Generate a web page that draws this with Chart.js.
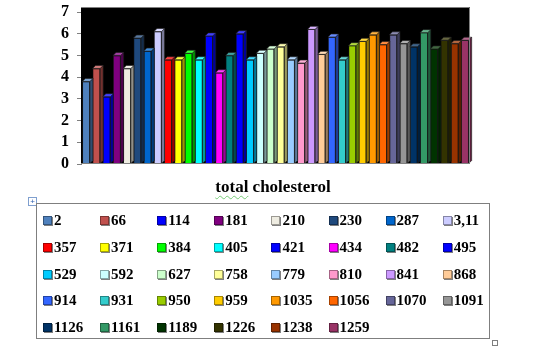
<!DOCTYPE html>
<html>
<head>
<meta charset="utf-8">
<script src="https://cdn.jsdelivr.net/npm/chart.js@4.4.1/dist/chart.umd.min.js"></script>
<style>
  html, body { margin: 0; padding: 0; background: #fff; }
  body { width: 555px; height: 357px; position: relative; overflow: hidden; }
  #wrap { position: absolute; left: 0; top: 0; width: 555px; height: 357px; }
  #title { position: absolute; left: 173px; width: 200px; top: 177px; text-align: center; font: bold 17px "Liberation Serif", "Times New Roman", serif; color: #000; line-height: 20px; }
  #title .sp { text-decoration: underline wavy #77cc77; text-decoration-thickness: 1px; text-underline-offset: 3px; }
  #legend { position: absolute; left: 36px; top: 203px; width: 454px; height: 136px; border: 1px solid #7f7f7f; box-sizing: border-box; }
  .item { position: absolute; height: 16px; font: bold 15px "Liberation Serif", "Times New Roman", serif; color: #000; line-height: 16px; white-space: nowrap; }
  .mk { position: absolute; left: 0; top: 4px; width: 7px; height: 7px; border: 1px solid rgba(0,0,0,0.35); box-shadow: 1px 1px 0 #808080; }
  .tx { position: absolute; left: 11px; top: 0; }
  #plus { position: absolute; left: 28px; top: 197px; width: 7px; height: 7px; border: 1px solid #7f9fcf; font: 8px sans-serif; line-height: 7px; text-align: center; color: #3060b0; }
  #handle { position: absolute; left: 492px; top: 340px; width: 4px; height: 4px; border: 1px solid #7f7f7f; background: #fff; }
</style>
</head>
<body>
<div id="wrap"><canvas id="c" width="555" height="357"></canvas></div>
<div id="title"></div>
<div id="plus">+</div>
<div id="legend"></div>
<div id="handle"></div>
<script>
const categories = ["2","66","114","181","210","230","287","3,11","357","371","384","405","421","434","482","495","529","592","627","758","779","810","841","868","914","931","950","959","1035","1056","1070","1091","1126","1161","1189","1226","1238","1259"];
const values = [3.8,4.4,3.1,5.0,4.4,5.8,5.2,6.1,4.8,4.8,5.1,4.8,5.9,4.2,5.0,6.0,4.8,5.1,5.3,5.4,4.8,4.65,6.2,5.05,5.85,4.8,5.45,5.65,5.95,5.5,5.95,5.55,5.4,6.05,5.3,5.7,5.55,5.7];
const colors = ["#4F81BD","#C0504D","#0000FF","#800080","#EEECE1","#1F497D","#0066CC","#CCCCFF","#FF0000","#FFFF00","#00FF00","#00FFFF","#0000FF","#FF00FF","#008080","#0000FF","#00CCFF","#CCFFFF","#CCFFCC","#FFFF99","#99CCFF","#FF99CC","#CC99FF","#FFCC99","#3366FF","#33CCCC","#99CC00","#FFCC00","#FF9900","#FF6600","#666699","#969696","#003366","#339966","#003300","#333300","#993300","#993366"];
const yTicks = [0,1,2,3,4,5,6,7];
const titleWords = ["total", "cholesterol"];

function shade(hex, f) {
  const n = parseInt(hex.slice(1), 16);
  let r = (n >> 16) & 255, g = (n >> 8) & 255, b = n & 255;
  if (f >= 0) { r += (255 - r) * f; g += (255 - g) * f; b += (255 - b) * f; }
  else { r *= (1 + f); g *= (1 + f); b *= (1 + f); }
  return 'rgb(' + Math.round(r) + ',' + Math.round(g) + ',' + Math.round(b) + ')';
}

const DEPTH = 3;
const WALL = 5;
const plotBg = {
  id: 'plotBg',
  beforeDatasetsDraw(chart) {
    const {ctx, chartArea: a} = chart;
    ctx.save();
    ctx.fillStyle = '#000';
    ctx.fillRect(a.left, a.top - WALL, a.right - a.left, a.bottom - a.top + WALL - 1);
    ctx.restore();
  },
  afterDatasetsDraw(chart) {
    const {ctx, chartArea: a} = chart;
    const meta = chart.getDatasetMeta(0);
    ctx.save();
    ctx.lineWidth = 0.7;
    ctx.strokeStyle = 'rgba(30,30,30,0.9)';
    meta.data.forEach((bar, i) => {
      const p = bar.getProps(['x', 'y', 'base', 'width'], true);
      const l = p.x - p.width / 2, r = p.x + p.width / 2, t = p.y, b = p.base;
      ctx.fillStyle = shade(colors[i], -0.4);
      ctx.beginPath();
      ctx.moveTo(r, t); ctx.lineTo(r + DEPTH, t - DEPTH); ctx.lineTo(r + DEPTH, b - DEPTH); ctx.lineTo(r, b); ctx.closePath();
      ctx.fill(); ctx.stroke();
      ctx.fillStyle = shade(colors[i], 0.25);
      ctx.beginPath();
      ctx.moveTo(l, t); ctx.lineTo(l + DEPTH, t - DEPTH); ctx.lineTo(r + DEPTH, t - DEPTH); ctx.lineTo(r, t); ctx.closePath();
      ctx.fill(); ctx.stroke();
    });
    ctx.strokeStyle = '#808080';
    ctx.lineWidth = 1;
    ctx.beginPath();
    ctx.moveTo(a.left, a.top - WALL + 0.5); ctx.lineTo(a.right - 0.5, a.top - WALL + 0.5); ctx.lineTo(a.right - 0.5, a.bottom);
    ctx.moveTo(a.left, a.bottom - 0.5); ctx.lineTo(a.right, a.bottom - 0.5);
    ctx.stroke();
    ctx.restore();
  }
};

new Chart(document.getElementById('c'), {
  type: 'bar',
  data: {
    labels: categories,
    datasets: [{
      data: values,
      backgroundColor: colors,
      borderColor: 'rgba(30,30,30,0.9)',
      borderWidth: 0.7,
      barPercentage: 0.74,
      categoryPercentage: 1.0
    }]
  },
  options: {
    responsive: false,
    animation: false,
    layout: { padding: { left: 0, right: 85, top: 12, bottom: 193 } },
    plugins: { legend: { display: false }, tooltip: { enabled: false }, title: { display: false } },
    scales: {
      x: { display: false },
      y: {
        min: 0, max: 7,
        afterFit(scale) { scale.width = 81; scale.paddingTop = 0; scale.paddingBottom = 0; },
        afterBuildTicks(scale) { scale.ticks = yTicks.map(v => ({ value: v })); },
        ticks: {
          autoSkip: false,
          color: '#000',
          padding: 8,
          font: { family: '"Liberation Serif", "Times New Roman", serif', size: 16, weight: 'bold', lineHeight: 1.0 }
        },
        grid: { drawOnChartArea: false, tickLength: 4, color: '#808080' },
        border: { display: true, color: '#808080' }
      }
    }
  },
  plugins: [plotBg]
});

const title = document.getElementById('title');
const w1 = document.createElement('span'); w1.className = 'sp'; w1.textContent = titleWords[0];
title.appendChild(w1);
title.appendChild(document.createTextNode(' ' + titleWords[1]));

const legend = document.getElementById('legend');
categories.forEach((cat, i) => {
  const col = i % 8, row = Math.floor(i / 8);
  const it = document.createElement('div');
  it.className = 'item';
  it.style.left = (6 + col * 57.1) + 'px';
  it.style.top = (8 + row * 26.8) + 'px';
  const mk = document.createElement('div');
  mk.className = 'mk';
  mk.style.background = colors[i];
  const tx = document.createElement('span');
  tx.className = 'tx';
  tx.textContent = cat;
  it.appendChild(mk); it.appendChild(tx);
  legend.appendChild(it);
});
</script>
</body>
</html>
